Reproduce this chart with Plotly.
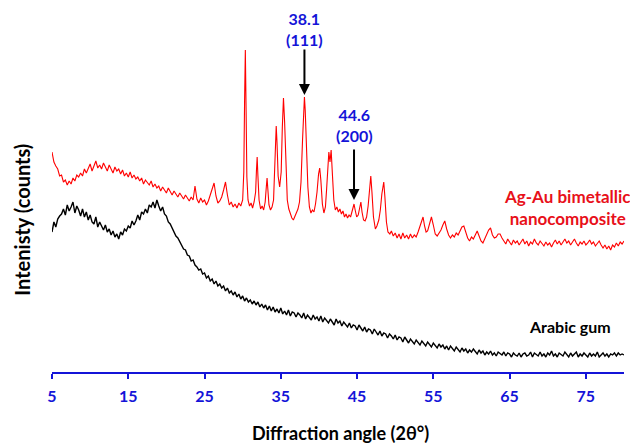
import plotly.graph_objects as go

# ---- XRD scan data (2-theta in degrees, intensity in arbitrary counts) ----

# Ag-Au bimetallic nanocomposite
agau_two_theta = [
    5.00, 5.25, 5.50, 5.75, 6.00, 6.25, 6.50, 6.75, 7.00, 7.25, 7.50, 7.75,
    8.00, 8.25, 8.50, 8.75, 9.00, 9.25, 9.50, 9.75, 10.00, 10.25, 10.50, 10.75,
    11.00, 11.25, 11.50, 11.75, 12.00, 12.25, 12.50, 12.75, 13.00, 13.25, 13.50, 13.75,
    14.00, 14.25, 14.50, 14.75, 15.00, 15.25, 15.50, 15.75, 16.00, 16.25, 16.50, 16.75,
    17.00, 17.25, 17.50, 17.75, 18.00, 18.25, 18.50, 18.75, 19.00, 19.25, 19.50, 19.75,
    20.00, 20.25, 20.50, 20.75, 21.00, 21.25, 21.50, 21.75, 22.00, 22.25, 22.50, 22.75,
    23.00, 23.25, 23.50, 23.75, 24.00, 24.25, 24.50, 24.75, 25.00, 25.25, 25.50, 25.75,
    26.00, 26.25, 26.50, 26.75, 27.00, 27.25, 27.50, 27.75, 28.00, 28.25, 28.50, 28.75,
    29.00, 29.25, 29.50, 29.75,
    30.00, 30.15, 30.25, 30.35, 30.45, 30.55, 30.70, 30.90, 31.10, 31.30, 31.50, 31.70,
    31.80, 31.90, 32.00, 32.15, 32.35, 32.55, 32.75, 32.95, 33.10, 33.20, 33.30, 33.45,
    33.65, 33.85, 34.05, 34.20, 34.30, 34.40, 34.50, 34.65, 34.85, 35.05, 35.20, 35.35,
    35.50, 35.65, 35.85, 36.05, 36.25, 36.45, 36.65, 36.85, 37.05, 37.25, 37.45, 37.65,
    37.85, 38.00, 38.10, 38.20, 38.35, 38.55, 38.75, 38.95, 39.15, 39.35, 39.55, 39.75,
    39.95, 40.10, 40.25, 40.45, 40.65, 40.85, 41.00, 41.15, 41.30, 41.45, 41.60, 41.75,
    41.95, 42.15, 42.35, 42.55, 42.75, 42.95, 43.15, 43.35, 43.55, 43.75, 43.95, 44.15,
    44.35, 44.50, 44.60, 44.75, 44.95, 45.15, 45.35, 45.50, 45.65, 45.85, 46.05, 46.25,
    46.45, 46.65, 46.80, 46.95, 47.15, 47.40, 47.60, 47.85, 48.05, 48.25, 48.40, 48.50,
    48.65, 48.85, 49.05, 49.30,
    49.50, 49.75, 50.00, 50.25, 50.50, 50.75, 51.00, 51.25, 51.50, 51.75, 52.00, 52.25,
    52.50, 52.75, 53.00, 53.25, 53.50, 53.65, 53.85, 54.05, 54.25, 54.50, 54.75, 55.00,
    55.25, 55.50, 55.75, 56.00, 56.25, 56.50, 56.75, 57.00, 57.25, 57.50, 57.75, 58.00,
    58.25, 58.50, 58.75, 59.00, 59.25, 59.50, 59.75, 60.00, 60.25, 60.50, 60.75, 61.00,
    61.25, 61.50, 61.75, 62.00, 62.25, 62.50, 62.75, 63.00, 63.25, 63.50, 63.75, 64.00,
    64.25, 64.50, 64.75, 65.00, 65.25, 65.50, 65.75, 66.00, 66.25, 66.50, 66.75, 67.00,
    67.25, 67.50, 67.75, 68.00, 68.25, 68.50, 68.75, 69.00, 69.25, 69.50, 69.75, 70.00,
    70.25, 70.50, 70.75, 71.00, 71.25, 71.50, 71.75, 72.00, 72.25, 72.50, 72.75, 73.00,
    73.25, 73.50, 73.75, 74.00, 74.25, 74.50, 74.75, 75.00, 75.25, 75.50, 75.75, 76.00,
    76.25, 76.50, 76.75, 77.00, 77.25, 77.50, 77.75, 78.00, 78.25, 78.50, 78.75, 79.00,
    79.25, 79.50, 79.75, 80.00,
]
agau_counts = [
    220, 210, 206, 203, 196, 197, 190, 192, 187, 191, 188, 194,
    191, 197, 195, 199, 196, 203, 199, 204, 208, 201, 206, 211,
    204, 207, 203, 209, 205, 201, 207, 203, 199, 205, 201, 203,
    198, 202, 196, 199, 195, 200, 194, 197, 193, 195, 191, 194,
    188, 192, 189, 187, 191, 185, 188, 184, 186, 181, 185, 182,
    179, 184, 180, 177, 181, 178, 175, 179, 176, 173, 177, 174,
    171, 175, 172, 186, 173, 169, 174, 170, 172, 167, 171, 177,
    183, 189, 176, 169, 171, 175, 182, 190, 177, 167, 170, 165,
    168, 164, 169, 166,
    172, 200, 270, 322, 262, 195, 172, 166, 169, 164, 170, 180,
    200, 215, 196, 172, 163, 166, 162, 170, 185, 194, 183, 167,
    162, 165, 172, 200, 232, 246, 230, 196, 185, 200, 245, 274,
    250, 205, 172, 163, 158, 154, 152, 156, 160, 163, 170, 190,
    232, 262, 275, 262, 225, 185, 165, 159, 162, 160, 168, 180,
    198, 204, 192, 168, 159, 165, 182, 205, 220, 210, 222, 200,
    172, 162, 165, 160, 163, 158, 161, 155, 158, 154, 157, 155,
    160, 166, 168, 162, 155, 157, 165, 170, 160, 152, 151, 155,
    166, 188, 196, 180, 155, 143, 146, 152, 162, 178, 189, 190,
    175, 150, 140, 138,
    141, 136, 139, 134, 138, 133, 139, 134, 137, 133, 138, 134,
    137, 135, 140, 145, 152, 155, 146, 140, 141, 149, 155, 147,
    138, 136, 139, 142, 147, 151, 143, 137, 134, 137, 135, 139,
    137, 141, 145, 146, 139, 134, 131, 135, 133, 138, 141, 136,
    131, 129, 133, 137, 142, 144, 137, 134, 135, 138, 138, 134,
    131, 128, 133, 130, 127, 132, 129, 131, 127, 130, 133, 128,
    131, 126, 130, 128, 133, 129, 127, 131, 128, 126, 130, 127,
    129, 125, 129, 132, 128, 131, 127, 130, 133, 129, 131, 127,
    130, 133, 129, 126, 130, 128, 131, 127, 129, 132, 128, 130,
    126, 129, 131, 127, 124, 127, 123, 126, 122, 127, 125, 129,
    126, 130, 128, 131,
]

# Arabic gum (0.25 degree step scan)
gum_two_theta = [
    5.00, 5.25, 5.50, 5.75, 6.00, 6.25, 6.50, 6.75, 7.00, 7.25, 7.50, 7.75,
    8.00, 8.25, 8.50, 8.75, 9.00, 9.25, 9.50, 9.75, 10.00, 10.25, 10.50, 10.75,
    11.00, 11.25, 11.50, 11.75, 12.00, 12.25, 12.50, 12.75, 13.00, 13.25, 13.50, 13.75,
    14.00, 14.25, 14.50, 14.75, 15.00, 15.25, 15.50, 15.75, 16.00, 16.25, 16.50, 16.75,
    17.00, 17.25, 17.50, 17.75, 18.00, 18.25, 18.50, 18.75, 19.00, 19.25, 19.50, 19.75,
    20.00, 20.25, 20.50, 20.75, 21.00, 21.25, 21.50, 21.75, 22.00, 22.25, 22.50, 22.75,
    23.00, 23.25, 23.50, 23.75, 24.00, 24.25, 24.50, 24.75, 25.00, 25.25, 25.50, 25.75,
    26.00, 26.25, 26.50, 26.75, 27.00, 27.25, 27.50, 27.75, 28.00, 28.25, 28.50, 28.75,
    29.00, 29.25, 29.50, 29.75, 30.00, 30.25, 30.50, 30.75, 31.00, 31.25, 31.50, 31.75,
    32.00, 32.25, 32.50, 32.75, 33.00, 33.25, 33.50, 33.75, 34.00, 34.25, 34.50, 34.75,
    35.00, 35.25, 35.50, 35.75, 36.00, 36.25, 36.50, 36.75, 37.00, 37.25, 37.50, 37.75,
    38.00, 38.25, 38.50, 38.75, 39.00, 39.25, 39.50, 39.75, 40.00, 40.25, 40.50, 40.75,
    41.00, 41.25, 41.50, 41.75, 42.00, 42.25, 42.50, 42.75, 43.00, 43.25, 43.50, 43.75,
    44.00, 44.25, 44.50, 44.75, 45.00, 45.25, 45.50, 45.75, 46.00, 46.25, 46.50, 46.75,
    47.00, 47.25, 47.50, 47.75, 48.00, 48.25, 48.50, 48.75, 49.00, 49.25, 49.50, 49.75,
    50.00, 50.25, 50.50, 50.75, 51.00, 51.25, 51.50, 51.75, 52.00, 52.25, 52.50, 52.75,
    53.00, 53.25, 53.50, 53.75, 54.00, 54.25, 54.50, 54.75, 55.00, 55.25, 55.50, 55.75,
    56.00, 56.25, 56.50, 56.75, 57.00, 57.25, 57.50, 57.75, 58.00, 58.25, 58.50, 58.75,
    59.00, 59.25, 59.50, 59.75, 60.00, 60.25, 60.50, 60.75, 61.00, 61.25, 61.50, 61.75,
    62.00, 62.25, 62.50, 62.75, 63.00, 63.25, 63.50, 63.75, 64.00, 64.25, 64.50, 64.75,
    65.00, 65.25, 65.50, 65.75, 66.00, 66.25, 66.50, 66.75, 67.00, 67.25, 67.50, 67.75,
    68.00, 68.25, 68.50, 68.75, 69.00, 69.25, 69.50, 69.75, 70.00, 70.25, 70.50, 70.75,
    71.00, 71.25, 71.50, 71.75, 72.00, 72.25, 72.50, 72.75, 73.00, 73.25, 73.50, 73.75,
    74.00, 74.25, 74.50, 74.75, 75.00, 75.25, 75.50, 75.75, 76.00, 76.25, 76.50, 76.75,
    77.00, 77.25, 77.50, 77.75, 78.00, 78.25, 78.50, 78.75, 79.00, 79.25, 79.50, 79.75,
    80.00,
]
gum_counts = [
    140, 150, 145, 153, 156, 158, 163, 157, 167, 161, 165, 170,
    159, 166, 162, 156, 163, 155, 160, 152, 157, 150, 148, 155,
    145, 150, 146, 142, 147, 140, 143, 137, 141, 135, 138, 133,
    140, 137, 143, 141, 146, 144, 151, 147, 151, 157, 152, 160,
    158, 163, 159, 167, 165, 170, 164, 172, 166, 161, 165, 158,
    156, 150, 148, 144, 141, 136, 134, 130, 127, 123, 122, 117,
    116, 111, 112, 107, 105, 102, 103, 98, 99, 94, 96, 91,
    93, 88, 91, 86, 88, 84, 86, 81, 84, 79, 81, 77,
    80, 75, 78, 73, 76, 71, 74, 70, 72, 68, 71, 67,
    70, 65, 68, 64, 67, 62, 66, 61, 65, 60, 63, 59,
    64, 58, 61, 57, 62, 56, 60, 59, 55, 59, 57, 54,
    59, 53, 57, 55, 52, 57, 53, 55, 51, 56, 50, 54,
    52, 49, 53, 50, 47, 53, 49, 51, 46, 50, 48, 45,
    49, 44, 47, 46, 42, 47, 44, 41, 45, 40, 43, 42,
    38, 43, 40, 37, 41, 36, 39, 38, 34, 38, 36, 33,
    37, 32, 35, 34, 30, 35, 32, 29, 33, 31, 28, 32,
    30, 27, 31, 29, 26, 30, 28, 25, 29, 26, 24, 28,
    25, 27, 23, 26, 22, 26, 24, 21, 25, 22, 20, 24,
    21, 23, 19, 22, 20, 23, 21, 18, 22, 19, 21, 17,
    20, 18, 21, 17, 19, 16, 20, 18, 17, 20, 16, 19,
    18, 15, 19, 17, 16, 19, 15, 18, 19, 16, 17, 20,
    15, 19, 17, 16, 20, 16, 18, 15, 19, 17, 21, 16,
    18, 15, 19, 17, 16, 20, 17, 15, 19, 16, 18, 20,
    15, 18, 16, 19, 17, 15, 19, 16, 18, 16, 20, 15,
    17, 19, 16, 18, 15, 18, 17, 19, 16, 19, 17, 18,
    17,
]

assert len(agau_two_theta) == len(agau_counts)
assert len(gum_two_theta) == len(gum_counts)

tick_values = [5, 15, 25, 35, 45, 55, 65, 75]

# Indexed reflections: label, position, label level, arrow tail and tip heights
peak_labels = ["38.1<br>(111)", "44.6<br>(200)"]
peak_positions = [38.1, 44.6]
label_levels = [343, 247]
arrow_tails = [324, 224]
arrow_tips = [277, 172]

BLUE = "#1414D8"
RED = "#E8101A"
FONT = "Lato"

fig = go.Figure()
fig.add_trace(go.Scatter(
    x=agau_two_theta, y=agau_counts, mode="lines",
    line=dict(color="#FF0000", width=1.1), name="Ag-Au bimetallic nanocomposite",
))
fig.add_trace(go.Scatter(
    x=gum_two_theta, y=gum_counts, mode="lines",
    line=dict(color="#000000", width=1.4), name="Arabic gum",
))

annotations = []
for pos, lab, lvl, tail, tip in zip(peak_positions, peak_labels, label_levels,
                                    arrow_tails, arrow_tips):
    annotations.append(dict(
        x=pos, y=lvl, xref="x", yref="y", text=lab, showarrow=False,
        font=dict(family=FONT, size=16, color=BLUE, weight="bold"),
        align="center", yanchor="middle",
    ))
    annotations.append(dict(
        x=pos, y=tip, ax=pos, ay=tail, xref="x", yref="y", axref="x", ayref="y",
        text="", showarrow=True, arrowhead=2, arrowsize=1.1, arrowwidth=2,
        arrowcolor="#000000",
    ))

annotations += [
    dict(x=72.6, y=165, xref="x", yref="y",
         text="Ag-Au bimetallic<br>nanocomposite", showarrow=False,
         font=dict(family=FONT, size=17, color=RED, weight="bold"),
         align="center"),
    dict(x=72.9, y=46, xref="x", yref="y", text="Arabic gum", showarrow=False,
         font=dict(family=FONT, size=16, color="#000000", weight="bold")),
    dict(x=0.505, y=-0.1989, xref="paper", yref="paper",
         text="Diffraction angle (2θ°)", showarrow=False,
         font=dict(family=FONT, size=18, color="#000000", weight="bold"),
         yanchor="bottom"),
    dict(x=-0.053, y=0.4086, xref="paper", yref="paper",
         text="Intenisty (counts)", showarrow=False, textangle=-90,
         font=dict(family=FONT, size=20, color="#000000", weight="bold"),
         xanchor="center", yanchor="middle"),
]

fig.update_layout(
    width=630, height=446,
    margin=dict(l=52, r=6, t=0, b=74),
    paper_bgcolor="white", plot_bgcolor="white",
    showlegend=False,
    annotations=annotations,
    xaxis=dict(
        range=[5, 80], tickvals=tick_values, ticktext=[str(v) for v in tick_values],
        showline=True, linecolor=BLUE, linewidth=2,
        ticks="outside", ticklen=5, tickwidth=2, tickcolor=BLUE,
        tickfont=dict(family=FONT, size=16, color=BLUE, weight="bold"),
        showgrid=False, zeroline=False, ticklabelstandoff=4,
    ),
    yaxis=dict(range=[0, 372], visible=False, showgrid=False, zeroline=False),
)

fig.write_html("out.html")
